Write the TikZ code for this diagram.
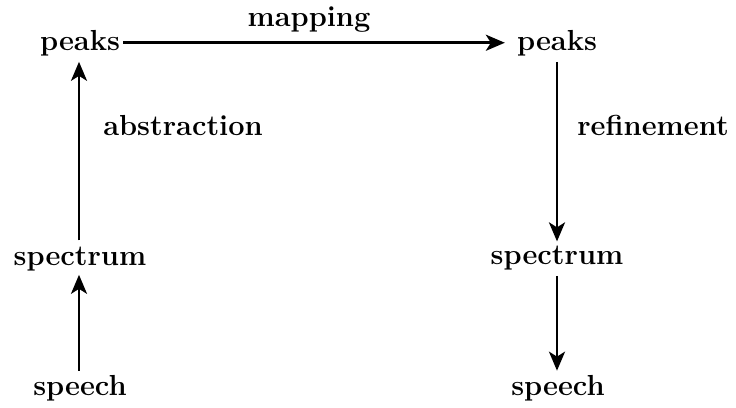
\documentclass[tikz,border=0pt]{standalone}
\usetikzlibrary{arrows.meta}
\begin{document}
\begin{tikzpicture}[x=1pt,y=-1pt,
  lbl/.style={font=\fontsize{29}{32}\selectfont\bfseries, inner sep=0pt, anchor=base},
  conn/.style={line width=2.7pt, -{Stealth[length=19pt,width=16pt,inset=5pt]}}]
\useasboundingbox (0,0) rectangle (736,407);
\node[lbl] (peaksL) at (80,50) {peaks};
\node[lbl] (peaksR) at (557,50) {peaks};
\node[lbl] (map) at (309,26) {mapping};
\node[lbl] (abs) at (183,135) {abstraction};
\node[lbl] (ref) at (653,135) {refinement};
\node[lbl] (specL) at (80,265) {spectrum};
\node[lbl] (specR) at (557,264) {spectrum};
\node[lbl] (speechL) at (80,395) {speech};
\node[lbl] (speechR) at (558,395) {speech};
\draw[conn, shorten <=3pt, shorten >=12pt] (peaksL.east) -- (peaksR.west);
\draw[conn, shorten <=6pt, shorten >=6pt] ([xshift=-1pt]specL.north) -- ([xshift=-1pt]peaksL.south);
\draw[conn, shorten <=4pt, shorten >=4pt] ([xshift=-1pt]speechL.north) -- ([xshift=-1pt]specL.south);
\draw[conn, shorten <=6pt, shorten >=4pt] (peaksR.south) -- (specR.north);
\draw[conn, shorten <=6pt, shorten >=4pt] (specR.south) -- ([xshift=-1pt]speechR.north);
\end{tikzpicture}
\end{document}
